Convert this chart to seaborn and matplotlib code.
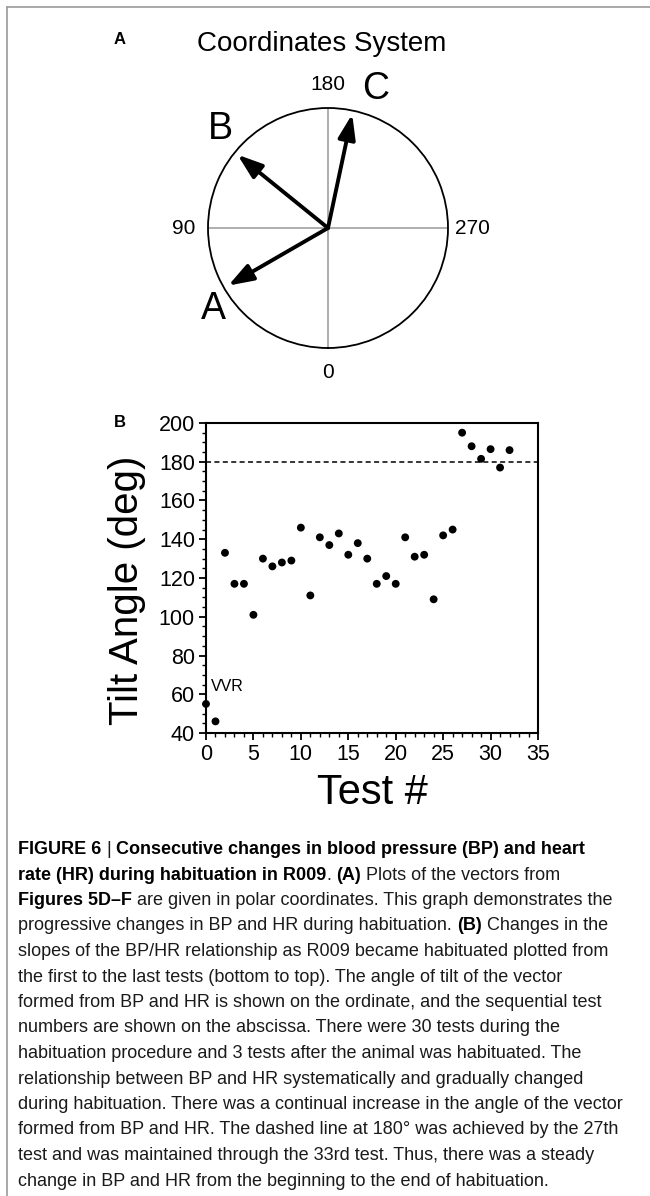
import numpy as np
import seaborn as sns
import matplotlib.pyplot as plt
from matplotlib.lines import Line2D
from matplotlib.ticker import MultipleLocator

# panel A: polar vectors (angle in degrees, 0 at bottom, clockwise)
vector_labels = ["A", "B", "C"]
vector_angles = [60, 129, 192]
vector_lengths = [0.96, 0.97, 0.97]
compass_angles = [0, 90, 180, 270]

# panel B: tilt angle per test
test_numbers = list(range(33))
tilt_angles = [55, 46, 133, 117, 117, 101, 130, 126, 128, 129,
               146, 111, 141, 137, 143, 132, 138, 130, 117, 121,
               117, 141, 131, 132, 109, 142, 145, 195, 188, 181.5,
               186.5, 177, 186]
threshold = 180

caption_lines = [
    [("FIGURE 6", True), (" | ", False), ("Consecutive changes in blood pressure (BP) and heart", True)],
    [("rate (HR) during habituation in R009", True), (". ", False), ("(A)", True), (" Plots of the vectors from", False)],
    [("Figures 5D\u2013F", True), (" are given in polar coordinates. This graph demonstrates the", False)],
    [("progressive changes in BP and HR during habituation. ", False), ("(B)", True), (" Changes in the", False)],
    [("slopes of the BP/HR relationship as R009 became habituated plotted from", False)],
    [("the first to the last tests (bottom to top). The angle of tilt of the vector", False)],
    [("formed from BP and HR is shown on the ordinate, and the sequential test", False)],
    [("numbers are shown on the abscissa. There were 30 tests during the", False)],
    [("habituation procedure and 3 tests after the animal was habituated. The", False)],
    [("relationship between BP and HR systematically and gradually changed", False)],
    [("during habituation. There was a continual increase in the angle of the vector", False)],
    [("formed from BP and HR. The dashed line at 180\u00b0 was achieved by the 27th", False)],
    [("test and was maintained through the 33rd test. Thus, there was a steady", False)],
    [("change in BP and HR from the beginning to the end of habituation.", False)],
]

sns.set_theme(style="ticks")
plt.rcParams['font.family'] = ['Liberation Sans', 'DejaVu Sans']
plt.rcParams.update({"text.color": "black", "axes.labelcolor": "black",
                     "xtick.color": "black", "ytick.color": "black"})

W, H = 650, 1196
fig = plt.figure(figsize=(W / 100, H / 100), dpi=100)
fig.patch.set_facecolor("white")


def fx(px):
    return px / W


def fy(py):
    return 1 - py / H


# page frame (top and left edges)
fig.add_artist(Line2D([fx(7), 1], [fy(7), fy(7)], color="#9a9a9a", lw=1.2))
fig.add_artist(Line2D([fx(7), fx(7)], [fy(7), 0], color="#9a9a9a", lw=1.2))

# ---------- panel A ----------
fig.text(fx(120), fy(39), "A", fontsize=12, weight="bold", ha="center", va="center")
fig.text(fx(322), fy(44), "Coordinates System", fontsize=20, ha="center", va="center")

axA = fig.add_axes([fx(208), fy(348), 240 / W, 240 / H], projection="polar")
axA.set_theta_zero_location("S")
axA.set_theta_direction(-1)
axA.set_ylim(0, 1)
axA.set_yticks([])
axA.set_xticks(np.deg2rad(compass_angles))
axA.set_xticklabels([])
axA.tick_params(axis="x", length=0)
axA.xaxis.grid(True, color="#a8a8a8", lw=1.3)
axA.spines["polar"].set_linewidth(1.3)
axA.spines["polar"].set_color("black")
axA.set_facecolor("white")

for a in compass_angles:
    axA.text(np.deg2rad(a), 1.2, str(a), fontsize=15, ha="center", va="center")

for ang, ln in zip(vector_angles, vector_lengths):
    axA.annotate("", xy=(np.deg2rad(ang), ln), xytext=(0, 0),
                 arrowprops=dict(arrowstyle="-|>,head_length=1.0,head_width=0.35",
                                 color="black", lw=2.8, shrinkA=0, shrinkB=0,
                                 mutation_scale=15))

label_pos = [(55, 1.17), (132.5, 1.22), (199, 1.225)]
for lab, (a, r) in zip(vector_labels, label_pos):
    axA.text(np.deg2rad(a), r, lab, fontsize=27, ha="center", va="center")

# ---------- panel B ----------
fig.text(fx(120), fy(423), "B", fontsize=12, weight="bold", ha="center", va="center")

axB = fig.add_axes([fx(206), fy(733), 332 / W, 310 / H])
sns.scatterplot(x=test_numbers, y=tilt_angles, ax=axB, color="black", s=32,
                edgecolor="none", linewidth=0, clip_on=False, zorder=3, legend=False)
axB.axhline(threshold, color="black", lw=1.1, ls=(0, (3.3, 2.2)))
axB.text(0.55, 61.5, "VVR", fontsize=11.5, ha="left", va="baseline")

axB.set_xlim(0, 35)
axB.set_ylim(40, 200)
axB.xaxis.set_major_locator(MultipleLocator(5))
axB.xaxis.set_minor_locator(MultipleLocator(1))
axB.yaxis.set_major_locator(MultipleLocator(20))
axB.yaxis.set_minor_locator(MultipleLocator(5))
axB.tick_params(which="major", direction="out", length=5, width=1.3, labelsize=15.5,
                pad=3, colors="black")
axB.tick_params(which="minor", direction="out", length=3, width=1.0, colors="black")
for s in axB.spines.values():
    s.set_visible(True)
    s.set_linewidth(1.5)
    s.set_color("black")

axB.set_xlabel("Test #", fontsize=30)
axB.set_ylabel("Tilt Angle (deg)", fontsize=29)
axB.xaxis.set_label_coords(0.5, -(773 - 733) / 310)
axB.xaxis.label.set_va("top")
axB.yaxis.set_label_coords((146 - 206) / 332, (733 - 590) / 310)

# ---------- caption ----------
renderer = fig.canvas.get_renderer()
cap_size = 13.0
space_w = {}
for bold in (True, False):
    w = "bold" if bold else "normal"
    t1 = fig.text(0, 0, "a a", fontsize=cap_size, weight=w)
    t2 = fig.text(0, 0, "aa", fontsize=cap_size, weight=w)
    space_w[bold] = (t1.get_window_extent(renderer).width
                     - t2.get_window_extent(renderer).width)
    t1.remove()
    t2.remove()

y0, step = 854, 25.5
for i, segs in enumerate(caption_lines):
    x = 18.0
    y = y0 + i * step
    for txt, bold in segs:
        lead = len(txt) - len(txt.lstrip(" "))
        trail = len(txt) - len(txt.rstrip(" "))
        core = txt.strip(" ")
        x += lead * space_w[bold]
        if core:
            t = fig.text(fx(x), fy(y), core, fontsize=cap_size,
                         weight="bold" if bold else "normal",
                         color="black" if bold else "#1a1a1a",
                         ha="left", va="baseline")
            x += t.get_window_extent(renderer).width
        x += trail * space_w[bold]

fig.savefig("out.png", dpi=100)
